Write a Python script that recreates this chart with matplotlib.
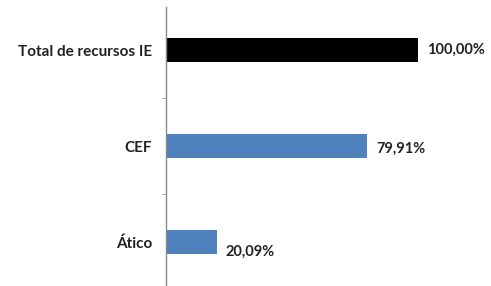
import matplotlib.pyplot as plt
from matplotlib.ticker import FixedLocator

categories = ["Ático", "CEF", "Total de recursos IE"]
values = [20.09, 79.91, 100.00]
labels = ["20,09%", "79,91%", "100,00%"]
colors = ["#4f81bd", "#4f81bd", "#000000"]

W, H = 491, 286
fig = plt.figure(figsize=(W / 100, H / 100), dpi=100)
# axes spans from x=166px to right edge, y from 290px (below fig) to 7px
ax = fig.add_axes([166 / W, (H - 290) / H, (W - 166) / W, (290 - 7) / H])

ax.barh(range(len(categories)), values, height=0.25, color=colors)

ax.set_xlim(0, (W - 166) / 252 * 100)
ax.set_ylim(-0.5, 2.45)

for i, (v, lab) in enumerate(zip(values, labels)):
    dy = 0.0 if i == 2 else -0.03 if i == 1 else -0.1
    ax.text(v + 3.5, i + dy, lab, va="center", ha="left",
            fontsize=10.5, fontweight="bold", family="Lato", color="#222222")

ax.set_yticks(range(len(categories)))
ax.set_yticklabels(categories, fontsize=11, fontweight="bold", family="Lato", color="#222222")
ax.tick_params(axis="y", which="major", length=0, pad=10)
ax.yaxis.set_minor_locator(FixedLocator([0.5, 1.5]))
ax.tick_params(axis="y", which="minor", length=3, color="#999999")

ax.set_xticks([])
for s in ["top", "right", "bottom"]:
    ax.spines[s].set_visible(False)
ax.spines["left"].set_color("#888888")
ax.spines["left"].set_linewidth(1)

fig.savefig("out.png", dpi=100)
